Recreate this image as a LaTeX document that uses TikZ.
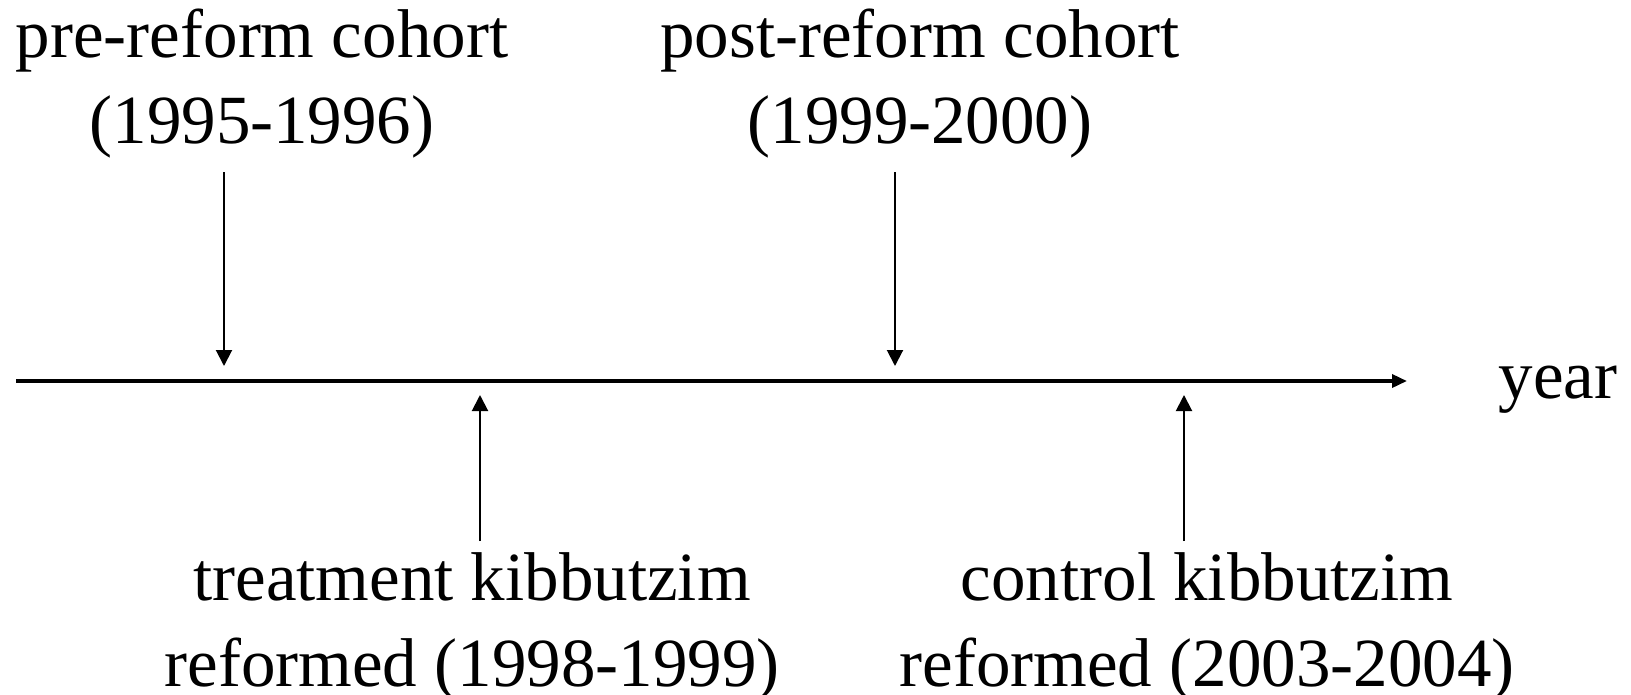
\documentclass[tikz,border=0pt]{standalone}
\usepackage{fontspec}
\setmainfont{Liberation Serif}
\usetikzlibrary{arrows.meta}
\begin{document}
\begin{tikzpicture}[x=1pt,y=-1pt,
  lbl/.style={font=\fontsize{69}{86}\selectfont, align=center, inner sep=0pt, anchor=base},
  marker/.style={line width=2pt, -{Triangle[width=16pt,length=16pt]}},
  axis/.style={line width=3.5pt, -{Triangle[width=13pt,length=15pt]}}]
\useasboundingbox (0,0) rectangle (1631,694);
% labels (anchor = baseline of the last line)
\node[lbl] (pre) at (262,143) {pre-reform cohort\\(1995-1996)};
\node[lbl] (post) at (920,143) {post-reform cohort\\(1999-2000)};
\node[lbl] (treat) at (472,686) {treatment kibbutzim\\reformed (1998-1999)};
\node[lbl] (ctrl) at (1207,686) {control kibbutzim\\reformed (2003-2004)};
\node[lbl] (year) at (1558,398) {year};
% axis
\coordinate (ax0) at (16,381);
\coordinate (ax1) at (1407,381);
\draw[axis] (ax0) -- (ax1);
% arrows
\coordinate (d1s) at (224,172); \coordinate (d1e) at (224,366);
\coordinate (d2s) at (895,172); \coordinate (d2e) at (895,366);
\coordinate (u1s) at (480,541); \coordinate (u1e) at (480,395);
\coordinate (u2s) at (1184,541); \coordinate (u2e) at (1184,395);
\draw[marker] (d1s) -- (d1e);
\draw[marker] (d2s) -- (d2e);
\draw[marker] (u1s) -- (u1e);
\draw[marker] (u2s) -- (u2e);
\end{tikzpicture}
\end{document}
